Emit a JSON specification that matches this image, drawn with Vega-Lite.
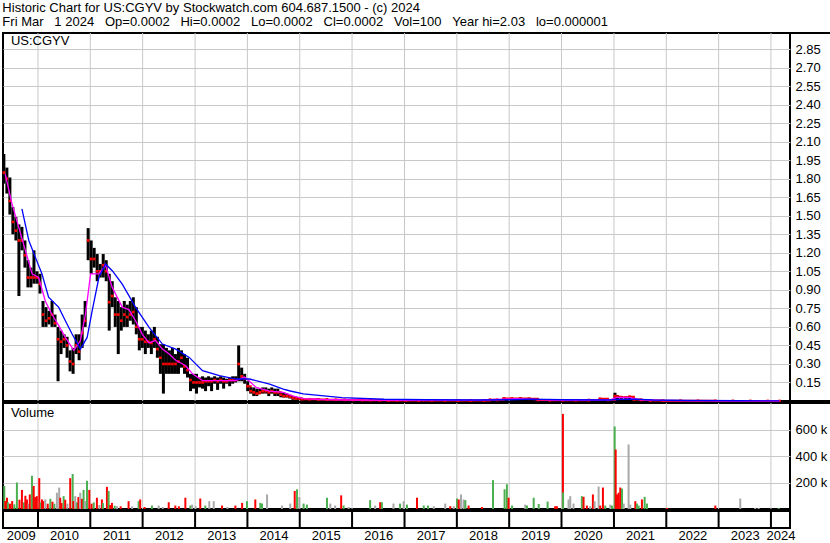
{
"$schema":"https://vega.github.io/schema/vega-lite/v6.json",
"background":"white",
"padding":{"left":1,"top":2,"right":42,"bottom":16},
"bounds":"flush",
"title":{"text":["Historic Chart for US:CGYV by Stockwatch.com 604.687.1500 - (c) 2024","Fri Mar\u00a0\u00a0\u00a01 2024\u00a0\u00a0\u00a0Op=0.0002\u00a0\u00a0\u00a0Hi=0.0002\u00a0\u00a0\u00a0Lo=0.0002\u00a0\u00a0\u00a0Cl=0.0002\u00a0\u00a0\u00a0Vol=100\u00a0\u00a0\u00a0Year hi=2.03\u00a0\u00a0\u00a0lo=0.000001"],"anchor":"start","font":"Liberation Sans","fontSize":13,"fontWeight":"normal","color":"#000","lineHeight":14,"offset":2,"dx":1},
"spacing":2,
"resolve":{"scale":{"color":"independent"}},
"datasets":{
"price":[
{"d":"2009-05-08","h":2.0,"l":1.76,"c":1.85},{"d":"2009-05-29","h":1.89,"l":1.68,"c":1.8},{"d":"2009-06-19","h":1.81,"l":1.51,"c":1.62},{"d":"2009-07-10","h":1.57,"l":1.35,"c":1.45},{"d":"2009-07-31","h":1.49,"l":1.3,"c":1.38},{"d":"2009-08-21","h":1.43,"l":0.85,"c":1.3},{"d":"2009-09-11","h":1.41,"l":1.22,"c":1.3},{"d":"2009-10-02","h":1.3,"l":1.08,"c":1.18},{"d":"2009-10-23","h":1.14,"l":0.92,"c":1.0},{"d":"2009-11-13","h":1.08,"l":0.92,"c":1.0},{"d":"2009-12-04","h":1.22,"l":0.95,"c":1.0},{"d":"2009-12-25","h":1.05,"l":0.95,"c":1.0},
{"d":"2010-01-15","h":1.03,"l":0.87,"c":0.95},{"d":"2010-02-05","h":0.81,"l":0.6,"c":0.7},{"d":"2010-02-26","h":0.76,"l":0.6,"c":0.65},{"d":"2010-03-19","h":0.73,"l":0.62,"c":0.67},{"d":"2010-04-09","h":0.81,"l":0.6,"c":0.7},{"d":"2010-04-30","h":0.7,"l":0.6,"c":0.63},{"d":"2010-05-21","h":0.6,"l":0.16,"c":0.5},{"d":"2010-06-11","h":0.57,"l":0.38,"c":0.48},{"d":"2010-07-02","h":0.54,"l":0.43,"c":0.5},{"d":"2010-07-23","h":0.52,"l":0.35,"c":0.45},{"d":"2010-08-13","h":0.41,"l":0.24,"c":0.32},{"d":"2010-09-03","h":0.43,"l":0.22,"c":0.3},{"d":"2010-09-24","h":0.54,"l":0.38,"c":0.45},{"d":"2010-10-15","h":0.54,"l":0.33,"c":0.4},{"d":"2010-11-05","h":0.7,"l":0.43,"c":0.55},{"d":"2010-11-26","h":0.81,"l":0.6,"c":0.65},{"d":"2010-12-17","h":1.4,"l":1.14,"c":1.3},
{"d":"2011-01-07","h":1.3,"l":1.03,"c":1.15},{"d":"2011-01-28","h":1.24,"l":1.08,"c":1.15},{"d":"2011-02-18","h":1.19,"l":0.97,"c":1.05},{"d":"2011-03-11","h":1.11,"l":1.0,"c":1.05},{"d":"2011-04-01","h":1.19,"l":1.0,"c":1.1},{"d":"2011-04-22","h":1.14,"l":0.97,"c":1.05},{"d":"2011-05-13","h":1.03,"l":0.57,"c":0.8},{"d":"2011-06-03","h":0.97,"l":0.76,"c":0.85},{"d":"2011-06-24","h":0.84,"l":0.6,"c":0.7},{"d":"2011-07-15","h":0.81,"l":0.38,"c":0.7},{"d":"2011-08-05","h":0.76,"l":0.57,"c":0.65},{"d":"2011-08-26","h":0.81,"l":0.6,"c":0.7},{"d":"2011-09-16","h":0.78,"l":0.6,"c":0.68},{"d":"2011-10-07","h":0.81,"l":0.65,"c":0.7},{"d":"2011-10-28","h":0.84,"l":0.62,"c":0.72},{"d":"2011-11-18","h":0.76,"l":0.54,"c":0.6},{"d":"2011-12-09","h":0.6,"l":0.41,"c":0.5},{"d":"2011-12-30","h":0.6,"l":0.43,"c":0.5},
{"d":"2012-01-20","h":0.57,"l":0.38,"c":0.48},{"d":"2012-02-10","h":0.54,"l":0.43,"c":0.48},{"d":"2012-03-02","h":0.57,"l":0.38,"c":0.47},{"d":"2012-03-23","h":0.6,"l":0.43,"c":0.5},{"d":"2012-04-13","h":0.52,"l":0.35,"c":0.42},{"d":"2012-05-04","h":0.46,"l":0.22,"c":0.35},{"d":"2012-05-25","h":0.46,"l":0.06,"c":0.3},{"d":"2012-06-15","h":0.43,"l":0.22,"c":0.3},{"d":"2012-07-06","h":0.41,"l":0.22,"c":0.3},{"d":"2012-07-27","h":0.43,"l":0.22,"c":0.3},{"d":"2012-08-17","h":0.38,"l":0.22,"c":0.3},{"d":"2012-09-07","h":0.43,"l":0.22,"c":0.32},{"d":"2012-09-28","h":0.41,"l":0.27,"c":0.35},{"d":"2012-10-19","h":0.38,"l":0.22,"c":0.28},{"d":"2012-11-09","h":0.35,"l":0.19,"c":0.25},{"d":"2012-11-30","h":0.22,"l":0.08,"c":0.17},{"d":"2012-12-21","h":0.22,"l":0.1,"c":0.15},
{"d":"2013-01-11","h":0.22,"l":0.06,"c":0.15},{"d":"2013-02-01","h":0.19,"l":0.11,"c":0.15},{"d":"2013-02-22","h":0.2,"l":0.1,"c":0.15},{"d":"2013-03-15","h":0.19,"l":0.08,"c":0.16},{"d":"2013-04-05","h":0.2,"l":0.12,"c":0.16},{"d":"2013-04-26","h":0.19,"l":0.08,"c":0.16},{"d":"2013-05-17","h":0.2,"l":0.14,"c":0.17},{"d":"2013-06-07","h":0.19,"l":0.09,"c":0.16},{"d":"2013-06-28","h":0.2,"l":0.14,"c":0.17},{"d":"2013-07-19","h":0.19,"l":0.1,"c":0.16},{"d":"2013-08-09","h":0.18,"l":0.14,"c":0.16},{"d":"2013-08-30","h":0.19,"l":0.12,"c":0.17},{"d":"2013-09-20","h":0.2,"l":0.14,"c":0.17},{"d":"2013-10-11","h":0.2,"l":0.15,"c":0.17},{"d":"2013-11-01","h":0.45,"l":0.16,"c":0.3},{"d":"2013-11-22","h":0.27,"l":0.16,"c":0.2},{"d":"2013-12-13","h":0.22,"l":0.14,"c":0.18},
{"d":"2014-01-03","h":0.16,"l":0.08,"c":0.12},{"d":"2014-01-24","h":0.11,"l":0.06,"c":0.08},{"d":"2014-02-14","h":0.11,"l":0.04,"c":0.07},{"d":"2014-03-07","h":0.1,"l":0.04,"c":0.06},{"d":"2014-03-28","h":0.1,"l":0.06,"c":0.07},{"d":"2014-04-18","h":0.11,"l":0.06,"c":0.08},{"d":"2014-05-09","h":0.11,"l":0.06,"c":0.08},{"d":"2014-05-30","h":0.1,"l":0.04,"c":0.07},{"d":"2014-06-20","h":0.11,"l":0.06,"c":0.08},{"d":"2014-07-11","h":0.1,"l":0.04,"c":0.07},{"d":"2014-08-01","h":0.1,"l":0.04,"c":0.07},{"d":"2014-08-22","h":0.07,"l":0.03,"c":0.05},{"d":"2014-09-12","h":0.068,"l":0.028,"c":0.04},{"d":"2014-10-03","h":0.06,"l":0.028,"c":0.04},{"d":"2014-10-24","h":0.05,"l":0.02,"c":0.035},{"d":"2014-11-14","h":0.04,"l":0.01,"c":0.025},{"d":"2014-12-05","h":0.035,"l":0.01,"c":0.02},{"d":"2014-12-26","h":0.03,"l":0.008,"c":0.02},
{"d":"2015-01-16","h":0.025,"l":0.006,"c":0.015},{"d":"2015-03-10","h":0.022,"l":0.008,"c":0.014},{"d":"2015-05-10","h":0.02,"l":0.007,"c":0.012},{"d":"2015-07-10","h":0.018,"l":0.006,"c":0.011},{"d":"2015-09-10","h":0.016,"l":0.005,"c":0.01},{"d":"2015-11-10","h":0.014,"l":0.005,"c":0.009},{"d":"2016-01-10","h":0.012,"l":0.004,"c":0.008},{"d":"2016-03-10","h":0.011,"l":0.004,"c":0.007},{"d":"2016-05-10","h":0.01,"l":0.004,"c":0.007},{"d":"2016-07-10","h":0.012,"l":0.003,"c":0.006},{"d":"2016-09-10","h":0.009,"l":0.003,"c":0.005},{"d":"2016-11-10","h":0.008,"l":0.003,"c":0.005},{"d":"2017-01-10","h":0.008,"l":0.003,"c":0.005},{"d":"2017-04-10","h":0.008,"l":0.002,"c":0.004},{"d":"2017-07-10","h":0.006,"l":0.002,"c":0.004},{"d":"2017-10-10","h":0.006,"l":0.002,"c":0.004},{"d":"2018-01-10","h":0.007,"l":0.002,"c":0.004},{"d":"2018-04-10","h":0.006,"l":0.002,"c":0.004},{"d":"2018-07-10","h":0.008,"l":0.002,"c":0.005},{"d":"2018-08-20","h":0.015,"l":0.004,"c":0.01},{"d":"2018-10-10","h":0.012,"l":0.004,"c":0.008},{"d":"2018-11-25","h":0.028,"l":0.006,"c":0.02},{"d":"2019-01-20","h":0.026,"l":0.01,"c":0.02},{"d":"2019-03-20","h":0.028,"l":0.008,"c":0.02},{"d":"2019-05-20","h":0.026,"l":0.008,"c":0.018},{"d":"2019-07-20","h":0.012,"l":0.004,"c":0.008},{"d":"2019-10-10","h":0.01,"l":0.003,"c":0.006},{"d":"2020-01-10","h":0.012,"l":0.003,"c":0.006},{"d":"2020-04-10","h":0.01,"l":0.003,"c":0.006},{"d":"2020-07-10","h":0.012,"l":0.004,"c":0.008},{"d":"2020-09-25","h":0.022,"l":0.006,"c":0.018},{"d":"2020-11-20","h":0.012,"l":0.004,"c":0.008},{"d":"2021-01-08","h":0.067,"l":0.012,"c":0.04},{"d":"2021-01-25","h":0.045,"l":0.015,"c":0.035},{"d":"2021-02-20","h":0.04,"l":0.015,"c":0.03},{"d":"2021-03-25","h":0.035,"l":0.012,"c":0.03},{"d":"2021-04-20","h":0.04,"l":0.012,"c":0.035},{"d":"2021-05-20","h":0.025,"l":0.006,"c":0.012},{"d":"2021-07-10","h":0.012,"l":0.004,"c":0.008},{"d":"2021-09-10","h":0.006,"l":0.002,"c":0.004},{"d":"2021-12-10","h":0.004,"l":0.001,"c":0.002},{"d":"2022-04-10","h":0.003,"l":0.001,"c":0.002},{"d":"2022-08-10","h":0.003,"l":0.0008,"c":0.0015},{"d":"2022-12-10","h":0.002,"l":0.0005,"c":0.001},{"d":"2023-04-10","h":0.002,"l":0.0004,"c":0.0008},{"d":"2023-08-10","h":0.0015,"l":0.0003,"c":0.0005},{"d":"2023-12-10","h":0.001,"l":0.0002,"c":0.0003},{"d":"2024-03-01","h":0.0002,"l":0.0002,"c":0.0002}
],
"ma":[
{"d":"2009-05-17","s":"short","v":1.84},{"d":"2009-07-03","s":"short","v":1.6},{"d":"2009-08-19","s":"short","v":1.41},{"d":"2009-10-05","s":"short","v":1.22},{"d":"2009-11-21","s":"short","v":1.03},{"d":"2010-01-06","s":"short","v":1.0},{"d":"2010-02-21","s":"short","v":0.81},{"d":"2010-04-09","s":"short","v":0.7},{"d":"2010-05-26","s":"short","v":0.61},{"d":"2010-07-11","s":"short","v":0.515},{"d":"2010-09-08","s":"short","v":0.41},{"d":"2010-10-24","s":"short","v":0.49},{"d":"2010-11-28","s":"short","v":0.7},{"d":"2011-01-03","s":"short","v":1.03},{"d":"2011-03-02","s":"short","v":1.03},{"d":"2011-04-17","s":"short","v":1.1},{"d":"2011-06-03","s":"short","v":0.92},{"d":"2011-08-12","s":"short","v":0.76},{"d":"2011-09-27","s":"short","v":0.74},{"d":"2011-11-13","s":"short","v":0.65},{"d":"2011-12-30","s":"short","v":0.54},{"d":"2012-02-15","s":"short","v":0.47},{"d":"2012-04-01","s":"short","v":0.49},{"d":"2012-05-18","s":"short","v":0.42},{"d":"2012-07-04","s":"short","v":0.38},{"d":"2012-08-19","s":"short","v":0.33},{"d":"2012-10-28","s":"short","v":0.285},{"d":"2012-12-14","s":"short","v":0.22},{"d":"2013-02-22","s":"short","v":0.165},{"d":"2013-06-19","s":"short","v":0.165},{"d":"2013-10-14","s":"short","v":0.165},{"d":"2013-12-11","s":"short","v":0.195},{"d":"2014-01-15","s":"short","v":0.16},{"d":"2014-03-03","s":"short","v":0.11},{"d":"2014-06-05","s":"short","v":0.08},{"d":"2014-09-08","s":"short","v":0.07},{"d":"2014-11-17","s":"short","v":0.04},{"d":"2015-01-26","s":"short","v":0.02},{"d":"2015-06-01","s":"short","v":0.012},{"d":"2016-01-01","s":"short","v":0.008},{"d":"2017-01-01","s":"short","v":0.005},{"d":"2018-06-01","s":"short","v":0.005},{"d":"2018-10-01","s":"short","v":0.012},{"d":"2019-03-01","s":"short","v":0.02},{"d":"2019-07-01","s":"short","v":0.012},{"d":"2020-01-01","s":"short","v":0.006},{"d":"2020-12-01","s":"short","v":0.008},{"d":"2021-01-20","s":"short","v":0.03},{"d":"2021-04-15","s":"short","v":0.03},{"d":"2021-07-01","s":"short","v":0.01},{"d":"2022-01-01","s":"short","v":0.003},{"d":"2023-01-01","s":"short","v":0.001},{"d":"2024-03-01","s":"short","v":0.0003},
{"d":"2009-09-11","s":"long","v":1.555},{"d":"2009-10-29","s":"long","v":1.3},{"d":"2009-12-14","s":"long","v":1.163},{"d":"2010-01-29","s":"long","v":1.028},{"d":"2010-03-16","s":"long","v":0.84},{"d":"2010-05-26","s":"long","v":0.758},{"d":"2010-07-11","s":"long","v":0.65},{"d":"2010-08-27","s":"long","v":0.542},{"d":"2010-10-24","s":"long","v":0.42},{"d":"2010-12-10","s":"long","v":0.515},{"d":"2011-01-14","s":"long","v":0.73},{"d":"2011-03-02","s":"long","v":1.0},{"d":"2011-04-17","s":"long","v":1.11},{"d":"2011-06-03","s":"long","v":1.055},{"d":"2011-08-12","s":"long","v":0.947},{"d":"2011-11-13","s":"long","v":0.758},{"d":"2012-02-15","s":"long","v":0.596},{"d":"2012-05-18","s":"long","v":0.461},{"d":"2012-08-19","s":"long","v":0.42},{"d":"2012-11-21","s":"long","v":0.353},{"d":"2013-02-22","s":"long","v":0.245},{"d":"2013-06-19","s":"long","v":0.205},{"d":"2013-10-14","s":"long","v":0.178},{"d":"2014-01-15","s":"long","v":0.178},{"d":"2014-06-05","s":"long","v":0.137},{"d":"2014-09-08","s":"long","v":0.097},{"d":"2014-10-27","s":"long","v":0.081},{"d":"2015-01-26","s":"long","v":0.057},{"d":"2015-10-22","s":"long","v":0.027},{"d":"2016-08-11","s":"long","v":0.014},{"d":"2017-06-01","s":"long","v":0.01},{"d":"2018-06-01","s":"long","v":0.008},{"d":"2019-01-01","s":"long","v":0.01},{"d":"2019-06-01","s":"long","v":0.015},{"d":"2020-01-01","s":"long","v":0.01},{"d":"2020-12-01","s":"long","v":0.008},{"d":"2021-02-15","s":"long","v":0.014},{"d":"2021-06-01","s":"long","v":0.015},{"d":"2021-10-01","s":"long","v":0.008},{"d":"2022-06-01","s":"long","v":0.004},{"d":"2023-06-01","s":"long","v":0.002},{"d":"2024-03-01","s":"long","v":0.0005}
],
"vol":[
{"d":"2009-05-11","v":174000,"dir":"up"},{"d":"2009-05-18","v":60000,"dir":"down"},{"d":"2009-05-30","v":85000,"dir":"down"},{"d":"2009-06-05","v":50000,"dir":"up"},{"d":"2009-06-20","v":40000,"dir":"down"},{"d":"2009-07-05","v":60000,"dir":"down"},{"d":"2009-07-20","v":35000,"dir":"up"},{"d":"2009-08-07","v":200000,"dir":"up"},{"d":"2009-08-25","v":70000,"dir":"down"},{"d":"2009-09-11","v":144000,"dir":"down"},{"d":"2009-09-25","v":50000,"dir":"up"},{"d":"2009-10-05","v":100000,"dir":"down"},{"d":"2009-10-16","v":72000,"dir":"down"},{"d":"2009-10-28","v":40000,"dir":"flat"},{"d":"2009-11-05","v":110000,"dir":"down"},{"d":"2009-11-20","v":251000,"dir":"up"},{"d":"2009-11-28","v":60000,"dir":"up"},{"d":"2009-12-02","v":174000,"dir":"down"},{"d":"2009-12-12","v":90000,"dir":"down"},{"d":"2009-12-24","v":97000,"dir":"down"},
{"d":"2010-01-10","v":233000,"dir":"down"},{"d":"2010-01-20","v":50000,"dir":"up"},{"d":"2010-01-29","v":72000,"dir":"down"},{"d":"2010-02-05","v":60000,"dir":"down"},{"d":"2010-02-21","v":72000,"dir":"flat"},{"d":"2010-03-10","v":40000,"dir":"down"},{"d":"2010-03-28","v":77000,"dir":"up"},{"d":"2010-04-12","v":55000,"dir":"down"},{"d":"2010-04-25","v":40000,"dir":"up"},{"d":"2010-05-13","v":123000,"dir":"flat"},{"d":"2010-05-29","v":162000,"dir":"flat"},{"d":"2010-06-05","v":85000,"dir":"down"},{"d":"2010-06-15","v":45000,"dir":"down"},{"d":"2010-06-29","v":97000,"dir":"up"},{"d":"2010-07-10","v":70000,"dir":"down"},{"d":"2010-07-25","v":40000,"dir":"flat"},{"d":"2010-08-14","v":233000,"dir":"down"},{"d":"2010-08-31","v":264000,"dir":"up"},{"d":"2010-09-05","v":60000,"dir":"down"},{"d":"2010-09-18","v":97000,"dir":"flat"},{"d":"2010-10-01","v":50000,"dir":"up"},{"d":"2010-10-10","v":90000,"dir":"down"},{"d":"2010-10-23","v":123000,"dir":"flat"},{"d":"2010-11-04","v":77000,"dir":"down"},{"d":"2010-11-15","v":144000,"dir":"up"},{"d":"2010-11-25","v":60000,"dir":"flat"},{"d":"2010-12-09","v":213000,"dir":"up"},{"d":"2010-12-25","v":144000,"dir":"down"},
{"d":"2011-01-10","v":40000,"dir":"down"},{"d":"2011-01-25","v":50000,"dir":"up"},{"d":"2011-02-16","v":85000,"dir":"down"},{"d":"2011-03-05","v":30000,"dir":"flat"},{"d":"2011-03-23","v":72000,"dir":"down"},{"d":"2011-03-30","v":45000,"dir":"up"},{"d":"2011-04-27","v":167000,"dir":"down"},{"d":"2011-05-09","v":136000,"dir":"up"},{"d":"2011-05-20","v":30000,"dir":"down"},{"d":"2011-06-01","v":46000,"dir":"down"},{"d":"2011-06-20","v":25000,"dir":"up"},{"d":"2011-07-06","v":21000,"dir":"flat"},{"d":"2011-08-01","v":20000,"dir":"down"},{"d":"2011-09-25","v":59000,"dir":"down"},{"d":"2011-10-20","v":20000,"dir":"flat"},{"d":"2011-12-04","v":59000,"dir":"up"},{"d":"2011-12-15","v":72000,"dir":"down"},
{"d":"2012-01-15","v":15000,"dir":"down"},{"d":"2012-03-06","v":26000,"dir":"up"},{"d":"2012-04-22","v":26000,"dir":"flat"},{"d":"2012-05-20","v":15000,"dir":"flat"},{"d":"2012-07-01","v":51000,"dir":"down"},{"d":"2012-08-16","v":26000,"dir":"down"},{"d":"2012-09-10","v":20000,"dir":"down"},{"d":"2012-10-25","v":85000,"dir":"down"},{"d":"2012-11-29","v":26000,"dir":"up"},{"d":"2012-12-11","v":33000,"dir":"flat"},
{"d":"2013-01-05","v":20000,"dir":"flat"},{"d":"2013-02-06","v":79000,"dir":"down"},{"d":"2013-03-13","v":26000,"dir":"up"},{"d":"2013-04-10","v":59000,"dir":"flat"},{"d":"2013-05-11","v":59000,"dir":"flat"},{"d":"2013-07-08","v":26000,"dir":"down"},{"d":"2013-08-15","v":15000,"dir":"flat"},{"d":"2013-10-09","v":26000,"dir":"down"},{"d":"2013-11-25","v":46000,"dir":"down"},{"d":"2013-12-29","v":59000,"dir":"up"},
{"d":"2014-02-25","v":72000,"dir":"down"},{"d":"2014-04-01","v":46000,"dir":"up"},{"d":"2014-04-13","v":41000,"dir":"up"},{"d":"2014-05-18","v":110000,"dir":"flat"},{"d":"2014-08-30","v":26000,"dir":"flat"},{"d":"2014-10-27","v":41000,"dir":"flat"},{"d":"2014-11-27","v":136000,"dir":"down"},{"d":"2014-12-13","v":149000,"dir":"up"},{"d":"2014-12-29","v":90000,"dir":"flat"},
{"d":"2015-01-28","v":41000,"dir":"up"},{"d":"2015-02-20","v":33000,"dir":"up"},{"d":"2015-07-10","v":85000,"dir":"up"},{"d":"2015-08-02","v":41000,"dir":"flat"},{"d":"2015-09-05","v":26000,"dir":"flat"},{"d":"2015-10-17","v":103000,"dir":"down"},{"d":"2015-11-03","v":26000,"dir":"up"},{"d":"2015-12-08","v":15000,"dir":"flat"},
{"d":"2016-05-06","v":67000,"dir":"up"},{"d":"2016-06-10","v":26000,"dir":"flat"},{"d":"2016-07-15","v":51000,"dir":"down"},{"d":"2016-07-27","v":51000,"dir":"up"},{"d":"2016-10-16","v":41000,"dir":"flat"},{"d":"2016-12-01","v":41000,"dir":"up"},{"d":"2016-12-26","v":59000,"dir":"flat"},
{"d":"2017-01-18","v":33000,"dir":"up"},{"d":"2017-03-29","v":85000,"dir":"down"},{"d":"2017-05-15","v":26000,"dir":"up"},{"d":"2017-06-14","v":26000,"dir":"up"},{"d":"2017-07-24","v":21000,"dir":"flat"},{"d":"2017-10-12","v":41000,"dir":"flat"},{"d":"2017-11-16","v":21000,"dir":"down"},{"d":"2017-12-10","v":21000,"dir":"flat"},
{"d":"2018-01-02","v":79000,"dir":"up"},{"d":"2018-01-14","v":72000,"dir":"down"},{"d":"2018-01-30","v":110000,"dir":"flat"},{"d":"2018-02-17","v":72000,"dir":"flat"},{"d":"2018-03-01","v":67000,"dir":"up"},{"d":"2018-03-24","v":26000,"dir":"down"},{"d":"2018-06-25","v":15000,"dir":"down"},{"d":"2018-09-10","v":218000,"dir":"up"},{"d":"2018-11-30","v":149000,"dir":"up"},{"d":"2018-12-16","v":187000,"dir":"up"},{"d":"2018-12-28","v":85000,"dir":"down"},
{"d":"2019-01-21","v":26000,"dir":"up"},{"d":"2019-04-23","v":33000,"dir":"flat"},{"d":"2019-05-05","v":26000,"dir":"up"},{"d":"2019-06-21","v":85000,"dir":"up"},{"d":"2019-07-26","v":38000,"dir":"up"},{"d":"2019-09-26","v":56000,"dir":"up"},{"d":"2019-11-18","v":21000,"dir":"down"},{"d":"2019-11-30","v":21000,"dir":"down"},
{"d":"2020-01-11","v":718000,"dir":"down"},{"d":"2020-01-12","v":125000,"dir":"up"},{"d":"2020-02-19","v":72000,"dir":"flat"},{"d":"2020-03-02","v":97000,"dir":"flat"},{"d":"2020-03-25","v":41000,"dir":"flat"},{"d":"2020-05-22","v":97000,"dir":"up"},{"d":"2020-06-03","v":92000,"dir":"down"},{"d":"2020-06-26","v":26000,"dir":"down"},{"d":"2020-07-19","v":21000,"dir":"flat"},{"d":"2020-08-07","v":110000,"dir":"down"},{"d":"2020-08-19","v":59000,"dir":"flat"},{"d":"2020-09-16","v":169000,"dir":"flat"},{"d":"2020-09-27","v":26000,"dir":"down"},{"d":"2020-10-16","v":162000,"dir":"down"},{"d":"2020-11-01","v":26000,"dir":"up"},{"d":"2020-12-06","v":33000,"dir":"flat"},{"d":"2020-12-18","v":26000,"dir":"up"},
{"d":"2021-01-06","v":623000,"dir":"up"},{"d":"2021-01-13","v":449000,"dir":"down"},{"d":"2021-01-22","v":110000,"dir":"down"},{"d":"2021-02-03","v":123000,"dir":"down"},{"d":"2021-02-14","v":162000,"dir":"down"},{"d":"2021-02-26","v":154000,"dir":"up"},{"d":"2021-03-10","v":41000,"dir":"flat"},{"d":"2021-04-13","v":487000,"dir":"flat"},{"d":"2021-04-25","v":33000,"dir":"flat"},{"d":"2021-05-30","v":59000,"dir":"down"},{"d":"2021-06-10","v":41000,"dir":"up"},{"d":"2021-06-22","v":26000,"dir":"up"},{"d":"2021-07-15","v":72000,"dir":"down"},{"d":"2021-08-03","v":92000,"dir":"up"},{"d":"2021-08-19","v":41000,"dir":"up"},
{"d":"2022-01-06","v":8000,"dir":"down"},{"d":"2022-12-09","v":26000,"dir":"down"},{"d":"2023-06-01","v":79000,"dir":"flat"},{"d":"2023-09-13","v":8000,"dir":"flat"},{"d":"2023-10-07","v":8000,"dir":"flat"},{"d":"2024-02-24","v":8000,"dir":"up"}
],
"years":[{"t":"2010-01-01"},{"t":"2011-01-01"},{"t":"2012-01-01"},{"t":"2013-01-01"},{"t":"2014-01-01"},{"t":"2015-01-01"},{"t":"2016-01-01"},{"t":"2017-01-01"},{"t":"2018-01-01"},{"t":"2019-01-01"},{"t":"2020-01-01"},{"t":"2021-01-01"},{"t":"2022-01-01"},{"t":"2023-01-01"},{"t":"2024-01-01"}]
},
"vconcat":[
{"width":787,"height":368,
 "resolve":{"axis":{"y":"independent"}},
 "layer":[
  {"data":{"name":"years"},"mark":{"type":"rule","color":"#c8c8c8","strokeWidth":1},
   "encoding":{"x":{"field":"t","type":"temporal","axis":null,"scale":{"type":"utc","domain":[{"year":2009,"month":5,"date":2,"utc":true},{"year":2024,"month":5,"date":13,"utc":true}]}}}},
  {"data":{"name":"price"},"transform":[{"filter":{"field":"d","gte":{"year":2014,"month":1,"date":1,"utc":true}}}],
   "mark":{"type":"line","color":"#ff0000","strokeWidth":2,"interpolate":"step-after"},
   "encoding":{"x":{"field":"d","type":"temporal","axis":null},
    "y":{"field":"c","type":"quantitative","scale":{"domain":[0,2.98],"nice":false,"zero":false},
     "axis":{"title":null,"orient":"right","grid":true,"format":".2f","labelPadding":5,"labelOverlap":false,"values":[0.15,0.3,0.45,0.6,0.75,0.9,1.05,1.2,1.35,1.5,1.65,1.8,1.95,2.1,2.25,2.4,2.55,2.7,2.85]}}}},
  {"data":{"name":"price"},"mark":{"type":"rule","color":"#000","strokeWidth":3},
   "encoding":{"x":{"field":"d","type":"temporal","axis":null},"y":{"field":"h","type":"quantitative","axis":null},"y2":{"field":"l"}}},
  {"data":{"name":"price"},"mark":{"type":"square","color":"#ff0000","filled":true,"opacity":1,"size":7},
   "encoding":{"x":{"field":"d","type":"temporal","axis":null},"y":{"field":"c","type":"quantitative","axis":null}}},
  {"data":{"name":"ma"},"mark":{"type":"line","strokeWidth":1.3},
   "encoding":{"x":{"field":"d","type":"temporal","axis":null},"y":{"field":"v","type":"quantitative","axis":null},
    "color":{"field":"s","type":"nominal","scale":{"domain":["short","long"],"range":["#ff00ff","#0000ff"]},"legend":null}}},
  {"data":{"values":[{}]},"mark":{"type":"text","align":"left","baseline":"top","font":"Liberation Sans","fontSize":13,"color":"#000"},
   "encoding":{"x":{"datum":{"year":2009,"month":6,"date":26,"utc":true},"type":"temporal","axis":null},"y":{"datum":2.96,"type":"quantitative","axis":null},"text":{"value":"US:CGYV"}}},
  {"data":{"values":[{}]},"mark":{"type":"rule","color":"#000","strokeWidth":2},
   "encoding":{"x":{"datum":{"year":2025,"month":2,"date":23,"utc":true},"type":"temporal","axis":null}}},
  {"data":{"values":[{}]},"mark":{"type":"rule","color":"#000","strokeWidth":2},
   "encoding":{"x":{"datum":{"year":2024,"month":5,"date":13,"utc":true},"type":"temporal","axis":null},"x2":{"datum":{"year":2025,"month":2,"date":23,"utc":true}},"y":{"datum":2.98,"type":"quantitative","axis":null}}},
  {"data":{"values":[{}]},"mark":{"type":"rule","color":"#000","strokeWidth":2},
   "encoding":{"x":{"datum":{"year":2024,"month":5,"date":13,"utc":true},"type":"temporal","axis":null},"x2":{"datum":{"year":2025,"month":2,"date":23,"utc":true}},"y":{"datum":0,"type":"quantitative","axis":null}}}
 ]},
{"width":787,"height":106,
 "resolve":{"axis":{"y":"independent"}},
 "layer":[
  {"data":{"name":"years"},"mark":{"type":"rule","color":"#c8c8c8","strokeWidth":1},
   "encoding":{"x":{"field":"t","type":"temporal","axis":null,"scale":{"type":"utc","domain":[{"year":2009,"month":5,"date":2,"utc":true},{"year":2024,"month":5,"date":13,"utc":true}]}}}},
  {"data":{"name":"vol"},"mark":{"type":"rule","strokeWidth":2},
   "encoding":{"x":{"field":"d","type":"temporal","axis":null},
    "y":{"field":"v","type":"quantitative","scale":{"domain":[0,800000],"nice":false},
     "axis":{"title":null,"orient":"right","grid":true,"labelPadding":5,"labelOverlap":false,"values":[200000,400000,600000],"labelExpr":"format(datum.value/1000,'d') + ' k'"}},
    "y2":{"datum":0},
    "color":{"field":"dir","type":"nominal","scale":{"domain":["up","down","flat"],"range":["#4caf50","#ff0000","#a8a8a8"]},"legend":null}}},
  {"data":{"values":[{}]},"mark":{"type":"text","align":"left","baseline":"top","font":"Liberation Sans","fontSize":13,"color":"#000"},
   "encoding":{"x":{"datum":{"year":2009,"month":6,"date":26,"utc":true},"type":"temporal","axis":null},"y":{"datum":770000,"type":"quantitative","axis":null},"text":{"value":"Volume"}}},
  {"data":{"values":[{}]},"mark":{"type":"rule","color":"#000","strokeWidth":2},
   "encoding":{"x":{"datum":{"year":2025,"month":2,"date":23,"utc":true},"type":"temporal","axis":null}}},
  {"data":{"values":[{}]},"mark":{"type":"rule","color":"#000","strokeWidth":2},
   "encoding":{"x":{"datum":{"year":2024,"month":5,"date":13,"utc":true},"type":"temporal","axis":null},"x2":{"datum":{"year":2025,"month":2,"date":23,"utc":true}},"y":{"datum":800000,"type":"quantitative","axis":null}}}
 ]},
{"width":787,"height":17,
 "data":{"name":"years"},
 "mark":{"type":"rule","color":"#000","strokeWidth":2},
 "encoding":{"x":{"field":"t","type":"temporal","scale":{"type":"utc","domain":[{"year":2009,"month":5,"date":2,"utc":true},{"year":2024,"month":5,"date":13,"utc":true}]},
   "axis":{"title":null,"grid":false,"ticks":false,"domain":false,"format":"%Y","labelPadding":1,"labelBaseline":"top","labelOverlap":false,"values":[{"year":2009,"month":9,"date":3,"utc":true},{"year":2010,"month":7,"date":2,"utc":true},{"year":2011,"month":7,"date":2,"utc":true},{"year":2012,"month":7,"date":2,"utc":true},{"year":2013,"month":7,"date":2,"utc":true},{"year":2014,"month":7,"date":2,"utc":true},{"year":2015,"month":7,"date":2,"utc":true},{"year":2016,"month":7,"date":2,"utc":true},{"year":2017,"month":7,"date":2,"utc":true},{"year":2018,"month":7,"date":2,"utc":true},{"year":2019,"month":7,"date":2,"utc":true},{"year":2020,"month":7,"date":2,"utc":true},{"year":2021,"month":7,"date":2,"utc":true},{"year":2022,"month":7,"date":2,"utc":true},{"year":2023,"month":7,"date":2,"utc":true},{"year":2024,"month":3,"date":7,"utc":true}]}}}}
],
"config":{
 "font":"Liberation Sans",
 "view":{"stroke":"#000","strokeWidth":2},
 "axis":{"labelFont":"Liberation Sans","labelFontSize":13,"labelColor":"#000","gridColor":"#c8c8c8","gridWidth":1,"gridOpacity":1,"ticks":false,"domain":false,"labelOverlap":false,"labelFlush":false,"labelBound":false}
}
}
